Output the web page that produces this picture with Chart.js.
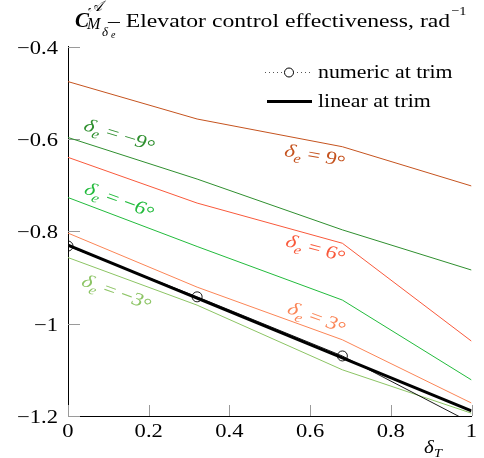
<!DOCTYPE html>
<html>
<head>
<meta charset="utf-8">
<script src="https://cdn.jsdelivr.net/npm/chart.js@4.4.1/dist/chart.umd.min.js"></script>
<style>
  html, body { margin: 0; padding: 0; background: #fff; }
  #wrap { width: 484px; height: 458px; }
</style>
</head>
<body>
<div id="wrap"><canvas id="chart" width="484" height="458"></canvas></div>
<script>
/* DATA */

const throttle = [0, 0.32, 0.68, 1];                    // δT
const elev9  = [-0.476, -0.557, -0.617, -0.702];        // δe = 9°
const elevM9 = [-0.597, -0.687, -0.797, -0.884];        // δe = -9°
const elev6  = [-0.640, -0.739, -0.826, -1.038];        // δe = 6°
const elevM6 = [-0.727, -0.833, -0.949, -1.122];        // δe = -6°
const elev3  = [-0.804, -0.921, -1.035, -1.172];        // δe = 3°
const elevM3 = [-0.857, -0.960, -1.100, -1.194];        // δe = -3°
const numericTrim = [-0.832, -0.942, -1.070, -1.215];
const linearX = [0, 1];
const linearTrim = [-0.830, -1.189];

const xTicks = [0, 0.2, 0.4, 0.6, 0.8, 1];
const yTicks = [-0.4, -0.6, -0.8, -1, -1.2];

/* STYLE */

const SERIF = '"Liberation Serif", "DejaVu Serif", serif';
const HS = 1.22;          // горизонтальное растяжение текста, как на картинке

function pts(xs, ys) {
    return xs.map((x, i) => ({ x: x, y: ys[i] }));
}

function fmt(v) {
    return String(v).replace('-', '\u2212');
}

// текст с растяжением по горизонтали
function txt(ctx, s, x, y, size, opts) {
    opts = opts || {};
    ctx.save();
    ctx.font = (opts.style || '') + ' ' + (opts.weight || '') + ' ' + size + 'px ' + SERIF;
    ctx.fillStyle = opts.color || '#000';
    ctx.textAlign = opts.align || 'left';
    ctx.textBaseline = 'alphabetic';
    ctx.translate(x, y);
    ctx.scale(opts.hs || HS, 1);
    ctx.fillText(s, 0, 0);
    var w = ctx.measureText(s).width * (opts.hs || HS);
    ctx.restore();
    return w;
}

// подписи кривых: δe = N°
const curveLabels = [
    { val: '\u22129', x: 0.129, y: -0.591, angle: 17, color: '#2f8f2f' },
    { val: '9',       x: 0.613, y: -0.635, angle: 10, color: '#c5531f' },
    { val: '\u22126', x: 0.129, y: -0.732, angle: 20, color: '#22bb3c' },
    { val: '6',       x: 0.615, y: -0.836, angle: 15, color: '#f9593b' },
    { val: '3',       x: 0.618, y: -0.986, angle: 20, color: '#fb8556' },
    { val: '\u22123', x: 0.122, y: -0.931, angle: 20, color: '#8cc464' }
];

function drawCurveLabel(ctx, cx, cy, lab) {
    var s = 18.5;
    var parts = [
        { t: '\u03B4', size: s, style: 'italic', dy: 0 },
        { t: 'e', size: s * 0.7, style: 'italic', dy: s * 0.25 },
        { t: ' = ', size: s, style: '', dy: 0 },
        { t: lab.val, size: s, style: '', dy: 0 },
        { t: '\u00B0', size: s, style: '', dy: s * 0.12 }
    ];
    var total = 0;
    parts.forEach(p => {
        ctx.font = p.style + ' ' + p.size + 'px ' + SERIF;
        p.w = ctx.measureText(p.t).width;
        total += p.w;
    });
    var a0 = Math.atan(HS * Math.tan(lab.angle * Math.PI / 180));
    ctx.save();
    ctx.translate(cx, cy);
    ctx.scale(HS, 1);
    ctx.rotate(a0);
    ctx.fillStyle = lab.color;
    ctx.textBaseline = 'alphabetic';
    ctx.textAlign = 'left';
    var x = -total / 2;
    parts.forEach(p => {
        ctx.font = p.style + ' ' + p.size + 'px ' + SERIF;
        ctx.fillText(p.t, x, s * 0.33 + p.dy);
        x += p.w;
    });
    ctx.restore();
}

const decorPlugin = {
    id: 'decor',
    beforeDatasetsDraw(chart) {
        const ctx = chart.ctx;
        const xs = chart.scales.x, ys = chart.scales.y;
        const area = chart.chartArea;
        ctx.save();
        ctx.strokeStyle = '#9a9a9a';
        ctx.lineWidth = 1;
        ctx.beginPath();
        xTicks.forEach(v => {
            var px = Math.round(xs.getPixelForValue(v)) + 0.5;
            ctx.moveTo(px, area.bottom);
            ctx.lineTo(px, area.bottom - 11);
        });
        yTicks.forEach(v => {
            var py = Math.round(ys.getPixelForValue(v)) + 0.5;
            ctx.moveTo(area.left, py);
            ctx.lineTo(area.left + 12, py);
        });
        ctx.stroke();
        ctx.restore();
    },
    afterDraw(chart) {
        const ctx = chart.ctx;
        const xs = chart.scales.x, ys = chart.scales.y;
        const area = chart.chartArea;

        // подписи делений
        xTicks.forEach(v => {
            txt(ctx, fmt(v), xs.getPixelForValue(v), area.bottom + 21, 18.5, { align: 'center' });
        });
        yTicks.forEach(v => {
            txt(ctx, fmt(v), area.left - 10, ys.getPixelForValue(v) + 7, 18.5, { align: 'right' });
        });

        // подписи кривых
        curveLabels.forEach(lab => {
            drawCurveLabel(ctx, xs.getPixelForValue(lab.x), ys.getPixelForValue(lab.y), lab);
        });

        // заголовок
        txt(ctx, 'C', 75, 27, 21, { style: 'italic', weight: 'bold', hs: 1.0 });
        txt(ctx, '\uD835\uDC9C', 88, 11, 15, { style: 'italic', hs: 1.0 });
        txt(ctx, 'M', 87, 29, 16, { style: 'italic', hs: 1.0 });
        txt(ctx, '\u03B4', 102, 36, 13, { style: 'italic', hs: 1.0 });
        txt(ctx, 'e', 111, 38, 10, { style: 'italic', hs: 1.0 });
        var w = txt(ctx, '\u2013 Elevator control effectiveness, rad', 108, 27, 18.5, { hs: 1.28 });
        txt(ctx, '\u22121', 108 + w + 1, 15, 12.5, { hs: 1.15 });

        // подпись оси x
        txt(ctx, '\u03B4', 424, 453, 19, { style: 'italic', hs: 1.1 });
        txt(ctx, 'T', 434, 457, 13, { style: 'italic', hs: 1.1 });

        // легенда
        const ds = chart.data.datasets;
        ctx.save();
        ctx.strokeStyle = '#555';
        ctx.lineWidth = 1;
        ctx.setLineDash([1, 3]);
        ctx.beginPath();
        ctx.moveTo(265, 72.5);
        ctx.lineTo(312, 72.5);
        ctx.stroke();
        ctx.setLineDash([]);
        ctx.fillStyle = '#fff';
        ctx.strokeStyle = '#000';
        ctx.beginPath();
        ctx.arc(289, 72.5, 4.5, 0, Math.PI * 2);
        ctx.fill();
        ctx.stroke();
        ctx.lineWidth = 3;
        ctx.beginPath();
        ctx.moveTo(267, 101.5);
        ctx.lineTo(312, 101.5);
        ctx.stroke();
        ctx.restore();
        txt(ctx, ds[0].label, 318, 78, 18.5, { hs: 1.18 });
        txt(ctx, ds[1].label, 318, 107, 18.5, { hs: 1.18 });
    }
};

/* CHART */

function thinLine(label, ys, color) {
    return {
        label: label,
        data: pts(throttle, ys),
        borderColor: color,
        borderWidth: 1,
        pointRadius: 0,
        tension: 0,
        clip: 0
    };
}

const ctx = document.getElementById('chart').getContext('2d');

const myChart = new Chart(ctx, {
    type: 'line',
    data: {
        datasets: [
            {
                label: 'numeric at trim',
                data: pts(throttle, numericTrim),
                borderColor: '#000',
                borderWidth: 0.9,
                pointRadius: 5,
                pointBorderWidth: 0.9,
                pointBorderColor: '#000',
                pointBackgroundColor: 'transparent',
                tension: 0,
                clip: 0
            },
            {
                label: 'linear at trim',
                data: pts(linearX, linearTrim),
                borderColor: '#000',
                borderWidth: 3,
                pointRadius: 0,
                tension: 0,
                clip: 0
            },
            thinLine('δe = 9°', elev9, '#c5531f'),
            thinLine('δe = -9°', elevM9, '#2f8f2f'),
            thinLine('δe = 6°', elev6, '#f9593b'),
            thinLine('δe = -6°', elevM6, '#22bb3c'),
            thinLine('δe = 3°', elev3, '#fb8556'),
            thinLine('δe = -3°', elevM3, '#8cc464')
        ]
    },
    options: {
        responsive: false,
        animation: false,
        devicePixelRatio: 1,
        layout: { padding: { left: 0, right: 12.5, top: 46.5, bottom: 0 } },
        scales: {
            x: {
                type: 'linear',
                min: 0,
                max: 1,
                afterBuildTicks: s => { s.ticks = xTicks.map(v => ({ value: v })); },
                afterFit: s => { s.height = 42; },
                grid: { display: false, drawTicks: false },
                border: { display: true, color: '#000', width: 1 },
                ticks: { display: false }
            },
            y: {
                type: 'linear',
                min: -1.2,
                max: -0.4,
                afterBuildTicks: s => { s.ticks = yTicks.map(v => ({ value: v })); },
                afterFit: s => { s.width = 68; },
                grid: { display: false, drawTicks: false },
                border: { display: true, color: '#000', width: 1 },
                ticks: { display: false }
            }
        },
        plugins: {
            legend: { display: false },
            tooltip: { enabled: false }
        }
    },
    plugins: [decorPlugin]
});
</script>
</body>
</html>
